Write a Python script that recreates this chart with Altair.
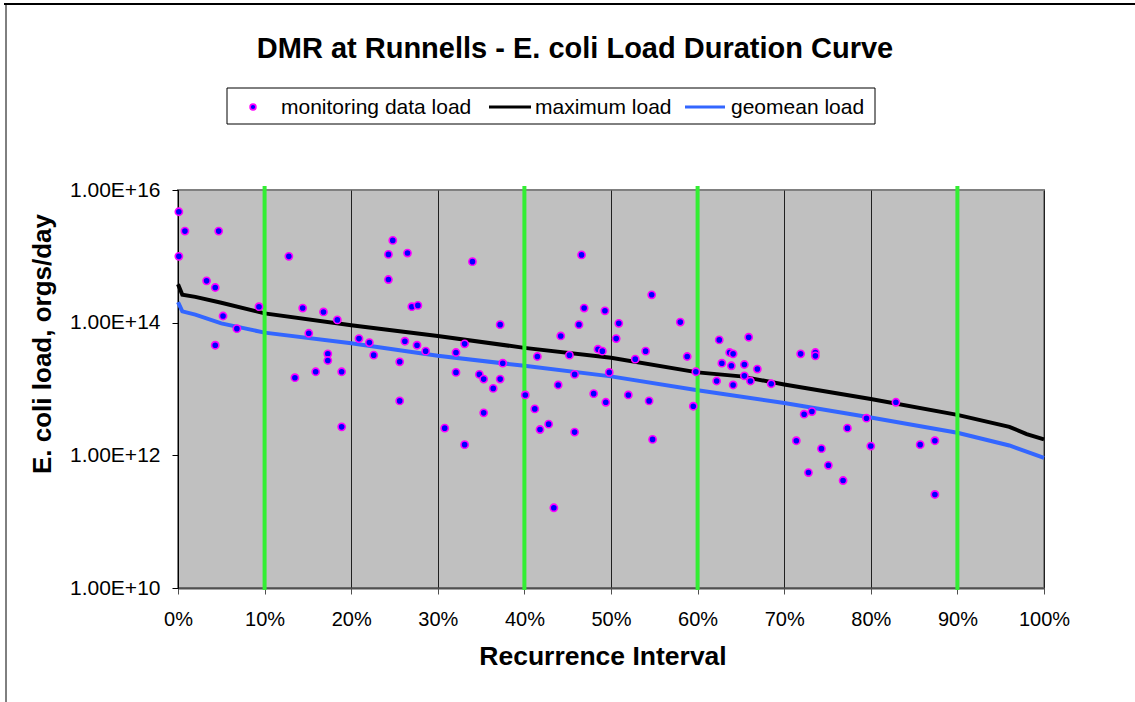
import altair as alt
import pandas as pd

FONT = "Liberation Sans"

# monitoring data load points: recurrence interval (%) and load (orgs/day)
pt_x = [0.1, 0.8, 4.7, 0.1, 12.8, 24.8, 24.3, 26.5, 24.3, 3.3,
        4.3, 9.35, 14.4, 16.8, 18.4, 27.0, 27.7, 5.2, 6.8, 4.3,
        15.1, 20.9, 22.1, 26.2, 27.6, 28.6, 32.1, 33.1, 17.3, 17.3,
        22.6, 25.6, 15.9, 18.9, 32.1, 13.5, 25.6, 18.9, 30.8, 33.1,
        34.0, 46.6, 54.7, 46.9, 49.3, 37.2, 46.3, 50.9, 58.0, 44.2,
        50.6, 48.5, 49.0, 41.5, 45.2, 54.0, 52.8, 58.8, 62.5, 63.7,
        64.1, 62.8, 63.9, 37.5, 59.8, 34.8, 35.3, 37.2, 45.8, 49.8,
        36.4, 35.3, 40.1, 41.2, 41.8, 42.8, 45.8, 43.4, 43.9, 48.0,
        49.4, 52.0, 54.4, 54.8, 59.5, 62.2, 64.1, 65.9, 65.4, 66.9,
        65.4, 71.9, 73.6, 73.6, 66.1, 68.5, 82.9, 72.3, 73.2, 79.5,
        77.3, 71.4, 74.3, 80.0, 85.7, 87.4, 75.1, 72.8, 76.8, 87.4]
pt_y = [4.7e15, 2.4e15, 2.4e15, 1.0e15, 1.0e15, 1.74e15, 1.07e15, 1.12e15, 4.47e14, 4.27e14,
        3.39e14, 1.74e14, 1.66e14, 1.45e14, 1.10e14, 1.74e14, 1.82e14, 1.26e14, 8.13e13, 4.57e13,
        6.92e13, 5.75e13, 5.01e13, 5.25e13, 4.57e13, 3.72e13, 3.55e13, 4.79e13, 3.39e13, 2.69e13,
        3.24e13, 2.57e13, 1.82e13, 1.82e13, 1.78e13, 1.48e13, 6.61e12, 2.69e12, 2.57e12, 1.45e12,
        8.32e14, 1.05e15, 2.63e14, 1.66e14, 1.51e14, 9.33e13, 9.33e13, 9.77e13, 1.02e14, 6.31e13,
        5.75e13, 3.98e13, 3.72e13, 3.09e13, 3.24e13, 3.72e13, 2.82e13, 3.09e13, 5.50e13, 3.55e13,
        3.39e13, 2.45e13, 2.24e13, 2.45e13, 1.82e13, 1.66e13, 1.41e13, 1.41e13, 1.66e13, 1.78e13,
        1.02e13, 4.37e12, 8.13e12, 5.01e12, 2.45e12, 2.95e12, 2.24e12, 1.62e11, 1.15e13, 8.51e12,
        6.31e12, 8.13e12, 6.61e12, 1.74e12, 5.50e12, 1.32e13, 1.15e13, 6.03e13, 2.34e13, 2.0e13,
        1.58e13, 3.39e13, 3.55e13, 3.16e13, 1.32e13, 1.20e13, 6.31e12, 4.17e12, 4.57e12, 3.63e12,
        2.57e12, 1.66e12, 1.26e12, 1.38e12, 1.45e12, 1.66e12, 7.08e11, 5.50e11, 4.17e11, 2.57e11]

# maximum load curve
max_x = [0, 0.5, 2, 5, 10, 20, 30, 40, 50, 60, 65, 70, 80, 90, 96, 98, 100]
max_y = [3.80e14, 2.63e14, 2.45e14, 2.0e14, 1.38e14, 9.12e13, 6.31e13, 4.17e13, 2.95e13,
         1.78e13, 1.55e13, 1.17e13, 7.08e12, 4.07e12, 2.69e12, 2.09e12, 1.74e12]

# geomean load curve
geo_x = [0, 0.5, 2, 5, 10, 20, 30, 40, 50, 60, 70, 80, 90, 96, 100]
geo_y = [2.04e14, 1.48e14, 1.32e14, 9.77e13, 7.08e13, 4.90e13, 3.16e13, 2.24e13, 1.55e13,
         9.55e12, 6.17e12, 3.72e12, 2.19e12, 1.41e12, 9.12e11]

green_x = [10, 40, 60, 90]

x_ticks = [0, 10, 20, 30, 40, 50, 60, 70, 80, 90, 100]
y_ticks = [1e10, 1e12, 1e14, 1e16]

TITLE = "DMR at Runnells - E. coli Load Duration Curve"
X_TITLE = "Recurrence Interval"
Y_TITLE = "E. coli load, orgs/day"
LEG = ["monitoring data load", "maximum load", "geomean load"]

W, H = 866, 398
L, T = 178, 190

xs = alt.Scale(domain=[0, 100], nice=False, zero=False)
ys = alt.Scale(type="log", domain=[1e10, 1e16], nice=False)

xaxis = alt.Axis(values=x_ticks, labelExpr="datum.value + '%'", title=None,
                 grid=True, gridColor="#202020", gridWidth=1, gridOpacity=1,
                 domainColor="#505050", domainWidth=2, tickColor="#505050",
                 tickSize=6, labelFontSize=20, labelFont=FONT, labelColor="black",
                 labelPadding=15, labelFlush=False)
yaxis = alt.Axis(values=y_ticks, labelExpr="upper(format(datum.value, '.2e'))",
                 title=None, grid=False, domainColor="black", domainWidth=1,
                 tickColor="black", tickSize=6, labelFontSize=21, labelFont=FONT,
                 labelColor="black", labelPadding=12)

X = alt.X("x:Q", scale=xs, axis=xaxis)
Y = alt.Y("y:Q", scale=ys, axis=yaxis)

pts_df = pd.DataFrame({"x": pt_x, "y": pt_y})
max_df = pd.DataFrame({"x": max_x, "y": max_y})
geo_df = pd.DataFrame({"x": geo_x, "y": geo_y})
green_df = pd.DataFrame({"x": green_x})

max_line = alt.Chart(max_df).mark_line(color="black", strokeWidth=4).encode(x=X, y=Y)
geo_line = alt.Chart(geo_df).mark_line(color="#3366FF", strokeWidth=4).encode(x=X, y=Y)
greens = alt.Chart(green_df).mark_rule(color="#33EE33", strokeWidth=4).encode(
    x=X, y=alt.value(-4), y2=alt.value(H + 2),
)
points = alt.Chart(pts_df).mark_point(
    shape="circle", filled=True, fill="#0000FF", stroke="#FF00FF",
    strokeWidth=1.6, size=52, opacity=1).encode(x=X, y=Y)

one = alt.Data(values=[{"a": 1}])


def txt(s, x, y, size, bold=False, angle=0, align="center", baseline="alphabetic"):
    kw = dict(text=s, fontSize=size, font=FONT, color="black", align=align,
              baseline=baseline, fontWeight="bold" if bold else "normal")
    if angle:
        kw["angle"] = angle
    return alt.Chart(one).mark_text(**kw).encode(x=alt.value(x), y=alt.value(y))


title = txt(TITLE, 575 - L, 58 - T, 29, bold=True)
xtitle = txt(X_TITLE, 603 - L, 665 - T, 26.5, bold=True)
ytitle = txt(Y_TITLE, 43 - L, 344 - T, 26, bold=True, angle=270, baseline="middle")

leg_box = alt.Chart(one).mark_rect(fill="white", stroke="black", strokeWidth=1).encode(
    x=alt.value(227 - L), x2=alt.value(875 - L), y=alt.value(88 - T), y2=alt.value(124 - T))
leg_dot = alt.Chart(one).mark_point(
    shape="circle", filled=True, fill="#0000FF", stroke="#FF00FF",
    strokeWidth=1.6, size=34, opacity=1).encode(x=alt.value(253 - L), y=alt.value(107 - T))
leg_black = alt.Chart(one).mark_rule(color="black", strokeWidth=3).encode(
    x=alt.value(489 - L), x2=alt.value(531 - L), y=alt.value(107 - T))
leg_blue = alt.Chart(one).mark_rule(color="#3366FF", strokeWidth=3).encode(
    x=alt.value(685 - L), x2=alt.value(725 - L), y=alt.value(107 - T))
leg_t1 = txt(LEG[0], 281 - L, 114 - T, 21, align="left")
leg_t2 = txt(LEG[1], 535 - L, 114 - T, 21, align="left")
leg_t3 = txt(LEG[2], 731 - L, 114 - T, 21, align="left")

frame_top = alt.Chart(one).mark_rule(color="black", strokeWidth=2).encode(
    x=alt.value(4 - L), x2=alt.value(1135 - L), y=alt.value(4 - T))
frame_left = alt.Chart(one).mark_rule(color="black", strokeWidth=1).encode(
    x=alt.value(6 - L), y=alt.value(4 - T), y2=alt.value(702 - T))

chart = alt.layer(
    max_line, geo_line, greens, points,
    title, xtitle, ytitle,
    leg_box, leg_dot, leg_black, leg_blue, leg_t1, leg_t2, leg_t3,
    frame_top, frame_left,
).properties(
    width=W, height=H,
    autosize=alt.AutoSizeParams(type="none"),
    padding={"left": L, "top": T, "right": 1135 - L - W, "bottom": 702 - T - H},
    background="white",
).configure_view(fill="#C0C0C0", stroke="#808080", strokeWidth=2)

chart.save("out.html", embed_options={"renderer": "svg", "actions": False})
